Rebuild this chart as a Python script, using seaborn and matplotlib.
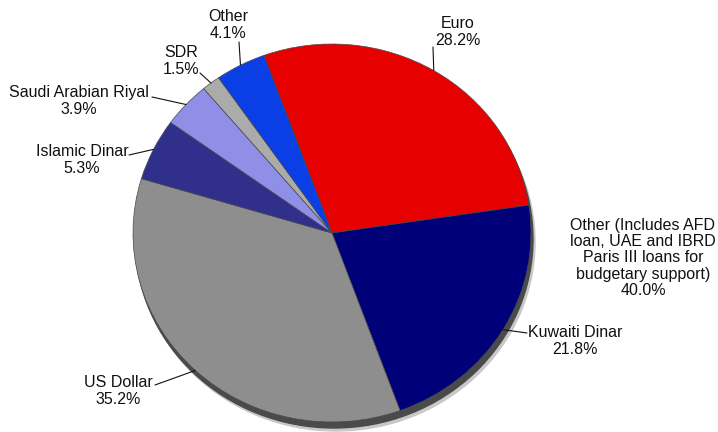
import matplotlib
matplotlib.use("Agg")
import matplotlib.pyplot as plt
from matplotlib.lines import Line2D
from matplotlib.patches import Ellipse
import numpy as np
import seaborn as sns

# currency composition (percent)
currencies = ["Euro", "Kuwaiti Dinar", "US Dollar", "Islamic Dinar",
              "Saudi Arabian Riyal", "SDR", "Other"]
shares = [28.2, 21.8, 35.2, 5.3, 3.9, 1.5, 4.1]
slice_colors = ["#e60000", "#000078", "#8e8e8e", "#30308c",
                "#8f8fe8", "#ababab", "#0a3fe6"]

note_text = "Other (Includes AFD\nloan, UAE and IBRD\nParis III loans for\nbudgetary support)"
note_share = 40.0

# label centres and leader start points, in pixels from top-left
label_pos = [(458, 32), (575, 341), (118, 391), (82, 160), (79, 101), (181, 61), (228, 25)]
leader_start = [(433, 47), (527, 333), (155, 385), (129, 155), (152, 97), (200, 73), (239, 42)]
note_pos = (643, 258)

W, H = 718, 432
sns.set_style("white")
plt.rcParams["font.family"] = ["Liberation Sans", "DejaVu Sans"]
FS = 11.5
LS = 1.12

fig = plt.figure(figsize=(W / 100, H / 100), dpi=100)

# pie drawn as slightly flattened ellipse: centre (332, 233), rx 199, ry 189
cx, cy, rx, ry = 332, 233, 199, 189
ax = fig.add_axes([(cx - rx) / W, (H - cy - ry) / H, 2 * rx / W, 2 * ry / H])

# shadow / depth band
ax.add_patch(Ellipse((4 / rx, -9 / ry), 2, 2, color="#c8c8c8", zorder=0, clip_on=False))
ax.add_patch(Ellipse((2 / rx, -6 / ry), 2, 2, color="#4a4a4a", zorder=0, clip_on=False))

wedges, _ = ax.pie(shares, colors=slice_colors, startangle=110, counterclock=False,
                   radius=1, wedgeprops=dict(edgecolor="#4a4a4a", linewidth=0.5))
ax.set_aspect("auto")
ax.set_xlim(-1, 1)
ax.set_ylim(-1, 1)
ax.axis("off")


def px(x, y):
    return x / W, 1 - y / H


to_fig = fig.transFigure.inverted()
for name, share, w, lp, ls in zip(currencies, shares, wedges, label_pos, leader_start):
    fig.text(*px(*lp), f"{name}\n{share:.1f}%", ha="center", va="center",
             multialignment="center", fontsize=FS, linespacing=LS, color="#111111")
    mid = np.deg2rad((w.theta1 + w.theta2) / 2)
    edge = to_fig.transform(ax.transData.transform((np.cos(mid), np.sin(mid))))
    start = px(*ls)
    fig.add_artist(Line2D([start[0], edge[0]], [start[1], edge[1]],
                          transform=fig.transFigure, color="#111111", linewidth=0.8))

fig.text(*px(*note_pos), f"{note_text}\n{note_share:.1f}%", ha="center", va="center",
         multialignment="center", fontsize=FS, linespacing=LS, color="#111111")

fig.savefig("out.png", dpi=100)
plt.close(fig)
